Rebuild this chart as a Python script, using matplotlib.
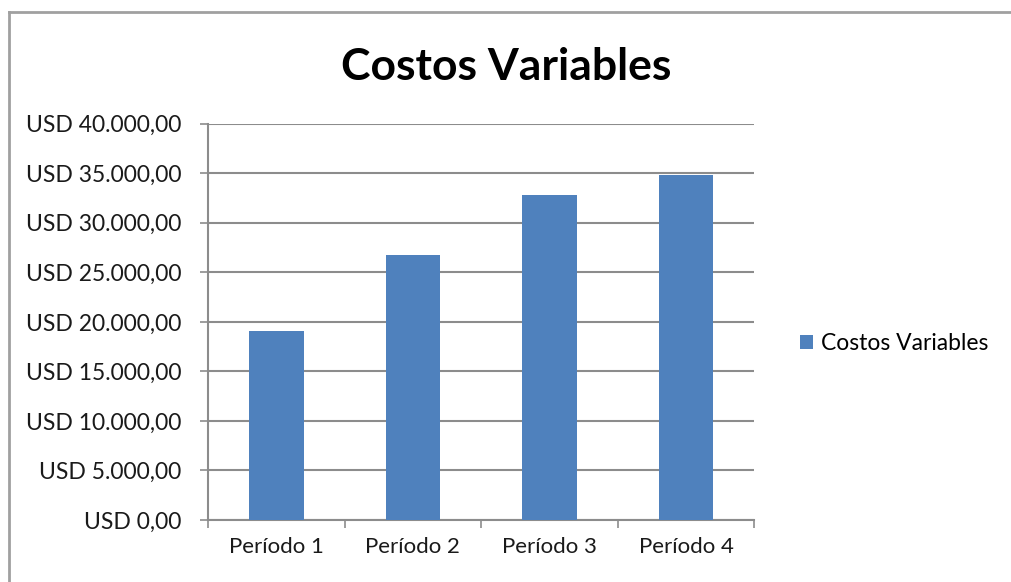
import matplotlib
matplotlib.use('Agg')
import matplotlib.pyplot as plt
from matplotlib.lines import Line2D

periodos = ['Período 1', 'Período 2', 'Período 3', 'Período 4']
costos_variables = [19100, 26750, 32800, 34800]
ticks_y = [0, 5000, 10000, 15000, 20000, 25000, 30000, 35000, 40000]


def formato_usd(v):
    s = f"{v:,.2f}"
    s = s.replace(',', 'X').replace('.', ',').replace('X', '.')
    return 'USD ' + s


plt.rcParams['font.family'] = ['Lato', 'DejaVu Sans']

fig = plt.figure(figsize=(10.12, 5.82), dpi=100)
ax = fig.add_axes([0.2055, 0.1065, 0.54, 0.681])

x = list(range(len(periodos)))
ax.bar(x, costos_variables, width=0.4, color='#4f81bd', zorder=3,
       label='Costos Variables')

ax.set_xlim(-0.5, len(periodos) - 0.5)
ax.set_ylim(0, 40000)
ax.set_yticks(ticks_y)
ax.set_yticklabels([formato_usd(v) for v in ticks_y], fontsize=16.5,
                   color='#1a1a1a')
ax.set_xticks(x)
ax.set_xticklabels(periodos, fontsize=16, color='#1a1a1a')
ax.set_xticks([i - 0.5 for i in range(len(periodos) + 1)], minor=True)

ax.grid(axis='y', color='#8c8c8c', linewidth=1.5, zorder=0)
ax.tick_params(axis='x', which='major', length=0, pad=12)
ax.tick_params(axis='x', which='minor', length=6, color='#8c8c8c', width=1.2)
ax.tick_params(axis='y', length=6, color='#8c8c8c', width=1.2, pad=13)

for lado in ['top', 'right']:
    ax.spines[lado].set_visible(False)
for lado in ['left', 'bottom']:
    ax.spines[lado].set_color('#8c8c8c')
    ax.spines[lado].set_linewidth(1.5)

fig.text(0.5, 0.885, 'Costos Variables', ha='center', va='center',
         fontsize=32, fontweight='bold', color='black')

ax.legend(loc='center left', bbox_to_anchor=(1.045, 0.445), frameon=False,
          fontsize=16.5, handlelength=0.6, handleheight=0.6,
          handletextpad=0.35)

# borde del grafico
fig.add_artist(Line2D([0.009, 0.009], [0, 0.979], color='#a0a0a0', lw=2))
fig.add_artist(Line2D([0.009, 1], [0.979, 0.979], color='#a0a0a0', lw=2))

fig.savefig('out.png', dpi=100)
